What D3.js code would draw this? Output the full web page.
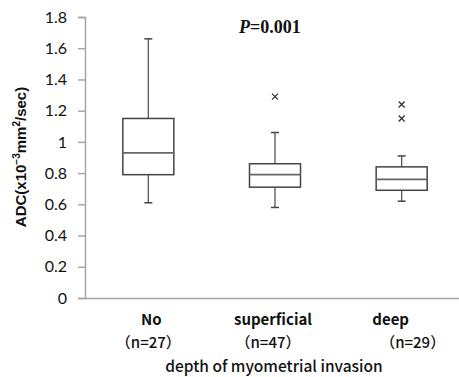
<!DOCTYPE html>
<html>
<head>
<meta charset="utf-8">
<script src="https://cdn.jsdelivr.net/npm/d3@7"></script>
<style>
  html, body { margin: 0; padding: 0; background: #fff; }
  svg { display: block; }
</style>
</head>
<body>
<svg id="chart" width="459" height="377"></svg>
<script>
// ---- data ----
const categories = ["No", "superficial", "deep"];
const sampleSizes = ["（n=27）", "（n=47）", "（n=29）"];
const whiskerLow  = [0.61, 0.58, 0.62];
const q1          = [0.79, 0.71, 0.69];
const median      = [0.93, 0.79, 0.76];
const q3          = [1.15, 0.86, 0.84];
const whiskerHigh = [1.66, 1.06, 0.91];
const outliers    = [[], [1.29], [1.24, 1.15]];
const yTicks      = [0, 0.2, 0.4, 0.6, 0.8, 1, 1.2, 1.4, 1.6, 1.8];

const svg = d3.select("#chart");
const axisColor = "#a6a6a6";

const x = d3.scaleBand().domain(categories).range([85, 465]).padding(0);
const y = d3.scaleLinear().domain([0, 1.8]).range([298, 17]);

// y axis
const yAxis = d3.axisLeft(y).tickValues(yTicks).tickSize(7).tickPadding(11)
  .tickFormat(d => String(+d.toFixed(1)));
const gy = svg.append("g").attr("transform", "translate(85,0)").call(yAxis);
gy.select(".domain").attr("stroke", axisColor).attr("stroke-width", 1.5);
gy.selectAll(".tick line").attr("stroke", axisColor).attr("stroke-width", 1.5);
gy.selectAll(".tick text").attr("fill", "#111").style("font-family", "Lato, 'Open Sans', sans-serif")
  .style("font-size", "16px");

// x axis line
const xAxis = d3.axisBottom(x).tickSize(0).tickFormat("");
const gx = svg.append("g").attr("transform", "translate(0,298)").call(xAxis);
gx.select(".domain").attr("stroke", axisColor).attr("stroke-width", 1.5);

// boxes
const boxW = 51;
const data = categories.map((c, i) => ({
  c, lo: whiskerLow[i], q1: q1[i], med: median[i], q3: q3[i], hi: whiskerHigh[i], out: outliers[i]
}));
const g = svg.append("g");
data.forEach(d => {
  const cx = x(d.c) + x.bandwidth() / 2;
  const gg = g.append("g");
  gg.append("line").attr("x1", cx).attr("x2", cx).attr("y1", y(d.q3)).attr("y2", y(d.hi))
    .attr("stroke", "#555").attr("stroke-width", 1.3);
  gg.append("line").attr("x1", cx).attr("x2", cx).attr("y1", y(d.q1)).attr("y2", y(d.lo))
    .attr("stroke", "#555").attr("stroke-width", 1.3);
  [d.hi, d.lo].forEach(v => {
    gg.append("line").attr("x1", cx - 4).attr("x2", cx + 4).attr("y1", y(v)).attr("y2", y(v))
      .attr("stroke", "#444").attr("stroke-width", 1.5);
  });
  gg.append("rect").attr("x", cx - boxW / 2).attr("width", boxW)
    .attr("y", y(d.q3)).attr("height", y(d.q1) - y(d.q3))
    .attr("fill", "#fff").attr("stroke", "#444").attr("stroke-width", 1.5);
  gg.append("line").attr("x1", cx - boxW / 2).attr("x2", cx + boxW / 2)
    .attr("y1", y(d.med)).attr("y2", y(d.med))
    .attr("stroke", "#666").attr("stroke-width", 1.8);
  d.out.forEach(v => {
    const oy = y(v), s = 3;
    gg.append("path").attr("d", `M${cx - s},${oy - s}L${cx + s},${oy + s}M${cx - s},${oy + s}L${cx + s},${oy - s}`)
      .attr("stroke", "#333").attr("stroke-width", 1.3).attr("fill", "none");
  });
});

// category labels (offsets mimic the original's spacing)
const labelFont = "'Noto Sans CJK JP', 'Noto Sans', sans-serif";
const catOffset = [3, -2, -11];
const nOffset = [0, -7, 11];
categories.forEach((c, i) => {
  const cx = x(c) + x.bandwidth() / 2;
  svg.append("text").attr("x", cx + catOffset[i]).attr("y", 325)
    .attr("text-anchor", "middle").style("font-family", labelFont)
    .style("font-size", "15px").style("font-weight", "700").attr("fill", "#111").text(c);
  svg.append("text").attr("x", cx + nOffset[i]).attr("y", 348)
    .attr("text-anchor", "middle").style("font-family", labelFont)
    .style("font-size", "15px").style("font-weight", "500").attr("fill", "#111").text(sampleSizes[i]);
});

// x axis title
svg.append("text").attr("x", 274).attr("y", 372).attr("text-anchor", "middle")
  .style("font-family", labelFont).style("font-size", "15.5px").style("font-weight", "500")
  .attr("fill", "#111").text("depth of myometrial invasion");

// y axis title
const yt = svg.append("text").attr("transform", "translate(26,157) rotate(-90)")
  .attr("text-anchor", "middle").style("font-family", "'Liberation Sans', Arial, sans-serif")
  .style("font-size", "15px").style("font-weight", "700").attr("fill", "#111");
yt.append("tspan").text("ADC(x10");
yt.append("tspan").attr("dy", -6).style("font-size", "10px").text("−3");
yt.append("tspan").attr("dy", 6).text("mm");
yt.append("tspan").attr("dy", -6).style("font-size", "10px").text("2");
yt.append("tspan").attr("dy", 6).text("/sec)");

// P value
const pt = svg.append("text").attr("x", 270).attr("y", 33).attr("text-anchor", "middle")
  .style("font-family", "'Liberation Serif', 'Times New Roman', serif")
  .style("font-size", "18px").style("font-weight", "700").attr("fill", "#111");
pt.append("tspan").style("font-style", "italic").text("P");
pt.append("tspan").text("=0.001");
</script>
</body>
</html>
